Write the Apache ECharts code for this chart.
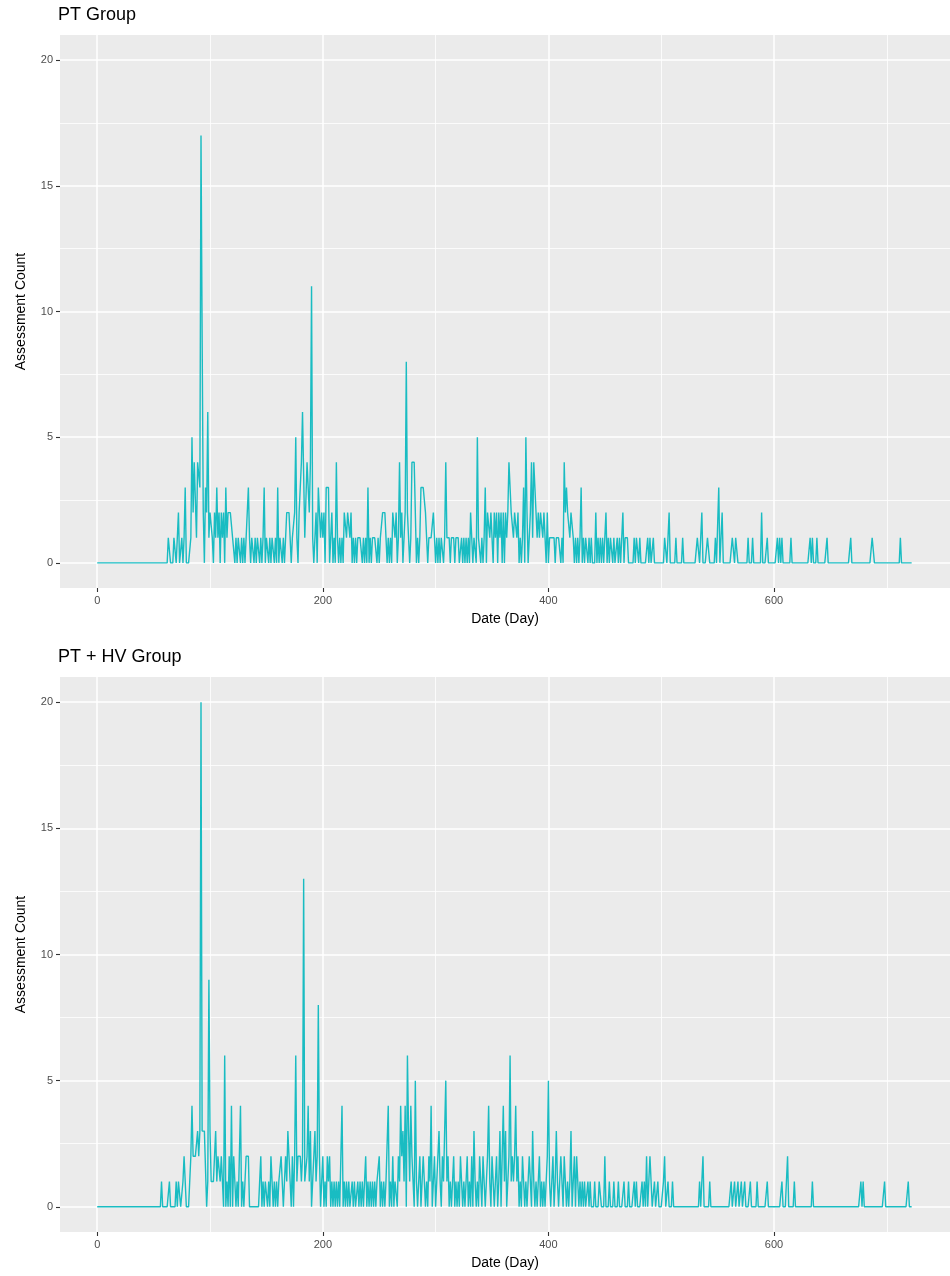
<!DOCTYPE html>
<html>
<head>
<meta charset="utf-8">
<script src="https://cdn.jsdelivr.net/npm/echarts@6/dist/echarts.min.js"></script>
<style>
  html, body { margin: 0; padding: 0; background: #ffffff; }
  #chart { width: 950px; height: 1276px; }
</style>
</head>
<body>
<div id="chart"></div>
<script>
// ---------------- data ----------------
const panelTitles = ['PT Group', 'PT + HV Group'];
const xAxisTitle = 'Date (Day)';
const yAxisTitle = 'Assessment Count';
const firstDay = 0;

// daily assessment counts, PT Group (day 0 ... 722)
const ptCounts = [
  0,0,0,0,0,0,0,0,0,0,  0,0,0,0,0,0,0,0,0,0,  0,0,0,0,0,0,0,0,0,0,
  0,0,0,0,0,0,0,0,0,0,  0,0,0,0,0,0,0,0,0,0,  0,0,0,0,0,0,0,0,0,0,
  0,0,0,1,1,0,0,0,1,1,  0,1,2,0,0,1,0,1,3,0,  0,0,0,1,5,2,4,4,1,4,
  4,3,17,9,2,0,3,2,6,1, 2,2,1,0,2,1,3,1,2,0,  2,1,2,0,3,1,2,2,2,2,
  1,1,0,1,0,1,1,0,1,0,  1,0,1,1,3,1,0,1,1,0,  1,0,1,1,0,1,0,1,3,0,
  1,1,0,1,0,1,1,0,1,0,  3,0,1,1,0,1,0,1,2,2,  2,1,0,1,1,2,5,1,0,2,
  2,4,6,6,1,1,4,4,2,4,  11,1,0,1,2,0,3,3,1,2, 1,2,0,3,3,3,0,1,2,0,
  1,0,4,1,0,1,0,1,0,2,  2,1,2,2,1,2,0,1,0,1,  0,1,1,1,1,0,1,0,1,0,
  3,0,1,0,1,1,1,1,0,1,  0,1,1,2,2,2,2,0,1,0,  1,0,2,2,1,2,0,1,4,1,
  2,0,1,2,8,2,1,0,1,4,  4,4,2,0,1,0,1,3,3,3,  3,2,1,0,1,1,1,1,2,1,
  0,1,0,1,0,1,1,0,1,4,  1,1,1,0,1,1,1,0,1,1,  1,0,0,1,0,1,0,1,0,1,
  0,2,1,0,1,1,0,5,1,1,  0,1,0,1,3,0,2,2,1,2,  2,0,2,1,2,0,2,1,2,0,
  2,0,2,1,2,4,4,2,2,1,  2,2,1,2,0,1,0,1,3,0,  5,2,0,1,2,4,1,4,3,2,
  1,2,1,2,2,1,2,1,0,2,  0,1,1,1,1,1,0,1,1,1,  1,0,1,0,4,2,3,2,2,1,
  2,2,1,0,1,0,1,0,1,3,  0,1,0,1,1,0,1,0,1,0,  0,0,2,0,1,0,1,0,1,0,
  0,2,0,1,0,1,1,0,1,0,  0,1,0,1,0,0,2,0,1,1,  1,0,0,0,0,0,1,0,1,1,
  0,1,0,0,0,0,0,0,1,0,  1,0,0,1,0,0,0,0,0,0,  0,0,0,1,1,0,0,2,0,0,
  0,0,0,1,0,0,0,0,0,1,  0,0,0,0,0,0,0,0,0,0,  0,0,1,1,0,0,2,0,0,0,
  0,1,1,0,0,0,0,0,1,0,  0,3,0,0,2,0,0,0,0,0,  0,0,0,1,1,0,1,1,0,0,
  0,0,0,0,0,0,0,1,0,0,  0,1,0,0,0,0,0,0,0,2,  0,0,0,0,1,0,0,0,0,0,
  0,0,0,1,0,1,0,1,0,0,  0,0,0,0,0,1,0,0,0,0,  0,0,0,0,0,0,0,0,0,0,
  0,0,1,0,1,0,0,0,1,0,  0,0,0,0,0,0,0,1,0,0,  0,0,0,0,0,0,0,0,0,0,
  0,0,0,0,0,0,0,0,1,0,  0,0,0,0,0,0,0,0,0,0,  0,0,0,0,0,0,0,1,1,0,
  0,0,0,0,0,0,0,0,0,0,  0,0,0,0,0,0,0,0,0,0,  0,0,1,0,0,0,0,0,0,0,
  0,0,0
];

// daily assessment counts, PT + HV Group (day 0 ... 722)
const hvCounts = [
  0,0,0,0,0,0,0,0,0,0,  0,0,0,0,0,0,0,0,0,0,  0,0,0,0,0,0,0,0,0,0,
  0,0,0,0,0,0,0,0,0,0,  0,0,0,0,0,0,0,0,0,0,  0,0,0,0,0,0,0,1,0,0,
  0,0,0,0,1,0,0,0,0,0,  1,0,1,1,0,0,1,2,2,0,  0,0,0,2,4,2,2,2,2,3,
  2,3,20,3,3,3,3,0,1,9, 3,1,1,1,1,3,1,2,2,1,  2,1,0,6,0,1,0,2,0,4,
  0,2,1,0,1,0,2,4,0,1,  0,1,2,2,2,0,0,0,0,0,  0,0,0,0,0,2,0,1,0,1,
  1,0,1,0,2,1,0,1,0,1,  0,1,1,2,2,0,1,2,1,3,  2,1,0,2,0,2,6,1,2,2,
  2,1,2,13,1,1,2,4,1,3, 0,1,1,3,1,2,8,2,0,1,  2,0,1,0,2,1,2,0,1,0,
  1,0,1,0,1,0,2,4,0,1,  0,1,0,1,0,0,1,0,1,0,  0,1,0,1,0,1,0,0,2,0,
  1,0,1,0,1,0,1,0,1,1,  2,0,1,0,1,0,1,1,4,0,  1,0,2,0,1,1,0,2,1,4,
  2,3,1,4,0,6,3,1,4,2,  1,0,5,1,0,1,2,0,1,2,  1,0,1,0,2,1,4,0,1,2,
  0,1,2,3,1,0,2,1,1,5,  1,2,0,1,0,1,2,0,1,0,  1,0,2,1,0,1,0,1,2,0,
  1,0,2,0,3,1,0,1,0,2,  1,0,2,1,0,1,2,4,1,0,  2,1,0,1,2,0,1,3,0,2,
  4,1,3,0,1,2,6,1,2,1,  2,4,1,2,0,1,0,2,1,0,  1,0,1,2,1,0,3,1,0,1,
  0,1,2,0,1,0,1,0,1,2,  5,1,0,1,2,0,1,3,1,0,  1,2,1,0,2,1,0,1,0,1,
  3,0,1,2,0,2,1,0,1,0,  1,0,1,0,0,1,0,1,0,0,  0,1,0,0,0,1,1,0,0,0,
  2,0,0,0,1,0,0,0,1,0,  0,0,1,0,0,0,0,1,0,0,  0,1,0,0,0,0,1,0,1,0,
  0,0,0,1,0,1,0,2,0,1,  2,1,0,0,1,0,0,1,0,0,  0,0,1,2,0,0,1,0,0,0,
  1,0,0,0,0,0,0,0,0,0,  0,0,0,0,0,0,0,0,0,0,  0,0,0,0,1,0,0,2,0,0,
  0,0,0,1,0,0,0,0,0,0,  0,0,0,0,0,0,0,0,0,0,  0,0,1,0,0,1,0,0,1,0,
  0,1,0,0,1,0,0,0,0,1,  0,0,0,0,0,1,0,0,0,0,  0,0,0,0,1,0,0,0,0,0,
  0,0,0,0,0,0,0,1,0,0,  0,0,2,0,0,0,0,0,1,0,  0,0,0,0,0,0,0,0,0,0,
  0,0,0,0,1,0,0,0,0,0,  0,0,0,0,0,0,0,0,0,0,  0,0,0,0,0,0,0,0,0,0,
  0,0,0,0,0,0,0,0,0,0,  0,0,0,0,0,0,0,1,0,1,  0,0,0,0,0,0,0,0,0,0,
  0,0,0,0,0,0,0,0,1,0,  0,0,0,0,0,0,0,0,0,0,  0,0,0,0,0,0,0,0,0,1,
  0,0,0
];

const xTickValues = [0, 200, 400, 600];
const xMinorGrid = [100, 300, 500, 700];
const yTickValues = [0, 5, 10, 15, 20];
const yMinorGrid = [2.5, 7.5, 12.5, 17.5];
const xRange = [-33, 756];
const yRange = [-1, 21];

// ---------------- chart ----------------
const FONT = '"Liberation Sans", Arial, Helvetica, sans-serif';
const LINE_COLOR = '#19BCC2';
const chart = echarts.init(document.getElementById('chart'), null, { renderer: 'canvas', width: 950, height: 1276 });

const panelTops = [35, 677];
const panelHeights = [553, 555];

function toPoints(counts) {
  return counts.map((v, i) => [firstDay + i, v]);
}

function gridLines() {
  const d = [];
  yTickValues.forEach(v => d.push({ yAxis: v, lineStyle: { width: 1.5 } }));
  yMinorGrid.forEach(v => d.push({ yAxis: v, lineStyle: { width: 0.8 } }));
  xTickValues.forEach(v => d.push({ xAxis: v, lineStyle: { width: 1.5 } }));
  xMinorGrid.forEach(v => d.push({ xAxis: v, lineStyle: { width: 0.8 } }));
  return d;
}

const grids = [], xAxes = [], yAxes = [], series = [], titles = [];
[ptCounts, hvCounts].forEach((counts, k) => {
  grids.push({
    left: 60, top: panelTops[k], width: 893, height: panelHeights[k],
    show: true, backgroundColor: '#EBEBEB', borderWidth: 0, containLabel: false
  });
  titles.push({
    text: panelTitles[k], left: 58, top: panelTops[k] - 29, padding: 0,
    textStyle: { fontFamily: FONT, fontSize: 18, fontWeight: 'normal', color: '#000' }
  });
  xAxes.push({
    gridIndex: k, type: 'value', min: xRange[0], max: xRange[1], position: 'bottom',
    axisLine: { show: false, onZero: false },
    axisTick: { show: true, length: 4, customValues: xTickValues, lineStyle: { color: '#333333', width: 1.1 } },
    axisLabel: { customValues: xTickValues, color: '#4D4D4D', fontSize: 11, margin: 7, fontFamily: FONT },
    splitLine: { show: false },
    name: xAxisTitle, nameLocation: 'middle', nameGap: 24,
    nameTextStyle: { color: '#000', fontSize: 14, fontFamily: FONT }
  });
  yAxes.push({
    gridIndex: k, type: 'value', min: yRange[0], max: yRange[1], position: 'left',
    axisLine: { show: false, onZero: false },
    axisTick: { show: true, length: 4, customValues: yTickValues, lineStyle: { color: '#333333', width: 1.1 } },
    axisLabel: { customValues: yTickValues, color: '#4D4D4D', fontSize: 11, margin: 7, fontFamily: FONT },
    splitLine: { show: false },
    name: yAxisTitle, nameLocation: 'middle', nameGap: 32, nameRotate: 90,
    nameTextStyle: { color: '#000', fontSize: 14, fontFamily: FONT }
  });
  series.push({
    type: 'line', xAxisIndex: k, yAxisIndex: k, z: 10,
    data: toPoints(counts),
    showSymbol: false, symbol: 'none', smooth: false,
    lineStyle: { color: LINE_COLOR, width: 1.4 },
    itemStyle: { color: LINE_COLOR },
    animation: false,
    markLine: {
      z: 1, silent: true, symbol: ['none', 'none'], animation: false,
      label: { show: false },
      lineStyle: { color: '#FFFFFF', type: 'solid' },
      emphasis: { disabled: true },
      data: gridLines()
    }
  });
});

chart.setOption({
  animation: false,
  backgroundColor: '#FFFFFF',
  title: titles,
  grid: grids,
  xAxis: xAxes,
  yAxis: yAxes,
  series: series
});
</script>
</body>
</html>
